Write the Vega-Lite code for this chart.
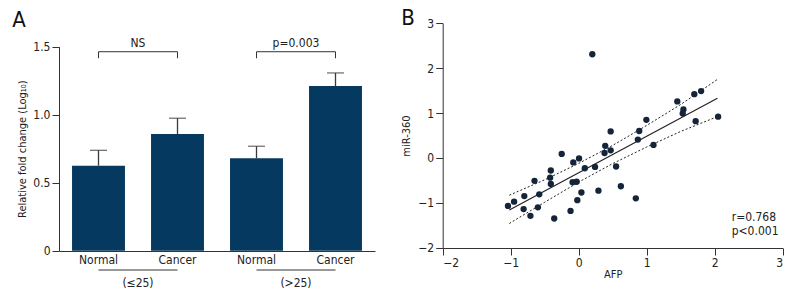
{
  "$schema": "https://vega.github.io/schema/vega-lite/v6.json",
  "background": "white",
  "width": 800,
  "height": 307,
  "autosize": {"type": "none"},
  "padding": 0,
  "config": {
    "font": "DejaVu Sans Condensed, sans-serif",
    "view": {"stroke": null},
    "axis": {"grid": false, "domainColor": "#333", "tickColor": "#333", "labelColor": "#222", "titleColor": "#222", "labelFont": "DejaVu Sans Condensed, sans-serif", "titleFont": "DejaVu Sans Condensed, sans-serif", "titleFontWeight": "normal", "labelFontSize": 12, "titleFontSize": 11}
  },
  "datasets": {
    "bars": [
      {"id": "N1", "label": "Normal", "value": 0.625, "err": 0.738},
      {"id": "C1", "label": "Cancer", "value": 0.858, "err": 0.974},
      {"id": "N2", "label": "Normal", "value": 0.68, "err": 0.768},
      {"id": "C2", "label": "Cancer", "value": 1.211, "err": 1.307}
    ],
    "lines": [
      {"seg": "b1", "o": 0, "id": "N1", "y": 1.415},
      {"seg": "b1", "o": 1, "id": "N1", "y": 1.463},
      {"seg": "b1", "o": 2, "id": "C1", "y": 1.463},
      {"seg": "b1", "o": 3, "id": "C1", "y": 1.415},
      {"seg": "b2", "o": 0, "id": "N2", "y": 1.415},
      {"seg": "b2", "o": 1, "id": "N2", "y": 1.463},
      {"seg": "b2", "o": 2, "id": "C2", "y": 1.463},
      {"seg": "b2", "o": 3, "id": "C2", "y": 1.415},
      {"seg": "u1", "o": 0, "id": "N1", "y": -0.142},
      {"seg": "u1", "o": 1, "id": "C1", "y": -0.142},
      {"seg": "u2", "o": 0, "id": "N2", "y": -0.142},
      {"seg": "u2", "o": 1, "id": "C2", "y": -0.142}
    ],
    "labelsA": [
      {"id": "N1", "y": 1.528, "text": "NS"},
      {"id": "N2", "y": 1.528, "text": "p=0.003"},
      {"id": "N1", "y": -0.235, "text": "(≤25)"},
      {"id": "N2", "y": -0.235, "text": "(>25)"}
    ],
    "panelA": [
      {"id": "N1", "y": 1.7, "text": "A"}
    ],
    "panelB": [
      {"x": -2.51, "y": 3.12, "text": "B"}
    ],
    "points": [
      {"afp": -1.04, "mir": -1.07}, {"afp": -0.95, "mir": -0.975}, {"afp": -0.8, "mir": -0.85},
      {"afp": -0.81, "mir": -1.14}, {"afp": -0.71, "mir": -1.29}, {"afp": -0.65, "mir": -0.51},
      {"afp": -0.58, "mir": -0.81}, {"afp": -0.6, "mir": -1.1}, {"afp": -0.42, "mir": -0.44},
      {"afp": -0.41, "mir": -0.28}, {"afp": -0.41, "mir": -0.58}, {"afp": -0.36, "mir": -1.35},
      {"afp": -0.25, "mir": 0.09}, {"afp": -0.08, "mir": -0.1}, {"afp": -0.09, "mir": -0.54},
      {"afp": -0.03, "mir": -0.53}, {"afp": -0.02, "mir": -0.94}, {"afp": -0.12, "mir": -1.18},
      {"afp": 0.005, "mir": -0.01}, {"afp": 0.04, "mir": -0.77}, {"afp": 0.09, "mir": -0.23},
      {"afp": 0.2, "mir": 2.31}, {"afp": 0.24, "mir": -0.2}, {"afp": 0.29, "mir": -0.73},
      {"afp": 0.39, "mir": 0.27}, {"afp": 0.38, "mir": 0.11}, {"afp": 0.47, "mir": 0.59},
      {"afp": 0.47, "mir": 0.17}, {"afp": 0.55, "mir": -0.19}, {"afp": 0.62, "mir": -0.63},
      {"afp": 0.84, "mir": -0.9}, {"afp": 0.87, "mir": 0.41}, {"afp": 0.89, "mir": 0.6},
      {"afp": 0.995, "mir": 0.85}, {"afp": 1.1, "mir": 0.29}, {"afp": 1.45, "mir": 1.26},
      {"afp": 1.54, "mir": 1.08}, {"afp": 1.53, "mir": 0.99}, {"afp": 1.7, "mir": 1.42},
      {"afp": 1.8, "mir": 1.49}, {"afp": 1.72, "mir": 0.82}, {"afp": 2.05, "mir": 0.92}
    ],
    "fit": [
      {"x": -1.02, "fit": -1.16, "lo": -1.46, "hi": -0.83},
      {"x": -0.5, "fit": -0.737, "lo": -0.987, "hi": -0.487},
      {"x": 0, "fit": -0.33, "lo": -0.538, "hi": -0.122},
      {"x": 0.5, "fit": 0.077, "lo": -0.126, "hi": 0.28},
      {"x": 1.0, "fit": 0.484, "lo": 0.244, "hi": 0.724},
      {"x": 1.5, "fit": 0.891, "lo": 0.591, "hi": 1.191},
      {"x": 2.04, "fit": 1.33, "lo": 0.92, "hi": 1.75}
    ],
    "stats": [
      {"x": 2.25, "y": -1.32, "text": "r=0.768"},
      {"x": 2.25, "y": -1.63, "text": "p<0.001"}
    ]
  },
  "layer": [
    {
      "encoding": {
        "x": {"field": "id", "type": "nominal", "sort": ["N1", "C1", "N2", "C2"],
              "scale": {"domain": ["N1", "C1", "N2", "C2"], "range": [59, 375], "paddingInner": 0.33, "paddingOuter": 0.165},
              "axis": {"title": null, "orient": "bottom", "offset": -56, "ticks": false, "labelAngle": 0, "labelPadding": 3,
                       "labelExpr": "indexof(['N1','N2'], datum.value) >= 0 ? 'Normal' : 'Cancer'"}}
      },
      "layer": [
        {
          "data": {"name": "bars"},
          "mark": {"type": "rule", "color": "#3a3a3a", "strokeWidth": 1.3},
          "encoding": {
            "y": {"field": "value", "type": "quantitative"},
            "y2": {"field": "err"}
          }
        },
        {
          "data": {"name": "bars"},
          "mark": {"type": "tick", "color": "#3a3a3a", "thickness": 1.3, "size": 17, "orient": "horizontal"},
          "encoding": {
            "y": {"field": "err", "type": "quantitative"}
          }
        },
        {
          "data": {"name": "bars"},
          "mark": {"type": "bar", "color": "#063960"},
          "encoding": {
            "y": {"field": "value", "type": "quantitative",
                  "scale": {"domain": [0, 1.5], "range": [250.7, 46.7], "nice": false},
                  "axis": {"orient": "left", "offset": -59, "values": [0, 0.5, 1, 1.5], "title": "Relative fold change (Log₁₀)", "tickSize": 7, "labelPadding": 2, "titlePadding": 5,
                           "labelExpr": "datum.value == 0 ? '0' : format(datum.value, '.1f')"}}
          }
        },
        {
          "data": {"name": "lines"},
          "mark": {"type": "line", "color": "#333", "strokeWidth": 1},
          "encoding": {
            "y": {"field": "y", "type": "quantitative"},
            "detail": {"field": "seg"},
            "order": {"field": "o"}
          }
        },
        {
          "data": {"name": "labelsA"},
          "mark": {"type": "text", "fontSize": 12, "color": "#222", "baseline": "middle"},
          "encoding": {
            "x": {"field": "id", "type": "nominal", "bandPosition": 1.246},
            "y": {"field": "y", "type": "quantitative"},
            "text": {"field": "text"}
          }
        },
        {
          "data": {"name": "panelA"},
          "mark": {"type": "text", "fontSize": 22, "color": "#111", "baseline": "middle", "align": "center"},
          "encoding": {
            "x": {"field": "id", "type": "nominal", "bandPosition": -1.0},
            "y": {"field": "y", "type": "quantitative"},
            "text": {"field": "text"}
          }
        }
      ]
    },
    {
      "layer": [
        {
          "data": {"name": "fit"},
          "mark": {"type": "line", "color": "#222", "strokeWidth": 1.2},
          "encoding": {
            "x": {"field": "x", "type": "quantitative", "scale": {"domain": [-2, 3], "range": [442.7, 782.7], "nice": false},
                  "axis": {"orient": "bottom", "offset": -59, "values": [-2, -1, 0, 1, 2, 3], "format": "d", "title": "AFP", "tickSize": 7, "labelPadding": 2, "titlePadding": 0}},
            "y": {"field": "fit", "type": "quantitative", "scale": {"domain": [-2, 3], "range": [247.7, 23.3], "nice": false},
                  "axis": {"orient": "left", "offset": -442.7, "values": [-2, -1, 0, 1, 2, 3], "format": "d", "title": "miR-360", "tickSize": 7, "labelPadding": 2, "titlePadding": 6}}
          }
        },
        {
          "data": {"name": "fit"},
          "mark": {"type": "line", "color": "#222", "strokeWidth": 1, "strokeDash": [2, 2]},
          "encoding": {
            "x": {"field": "x", "type": "quantitative"},
            "y": {"field": "lo", "type": "quantitative"}
          }
        },
        {
          "data": {"name": "fit"},
          "mark": {"type": "line", "color": "#222", "strokeWidth": 1, "strokeDash": [2, 2]},
          "encoding": {
            "x": {"field": "x", "type": "quantitative"},
            "y": {"field": "hi", "type": "quantitative"}
          }
        },
        {
          "data": {"name": "points"},
          "mark": {"type": "circle", "color": "#14253a", "opacity": 1, "size": 40},
          "encoding": {
            "x": {"field": "afp", "type": "quantitative"},
            "y": {"field": "mir", "type": "quantitative"}
          }
        },
        {
          "data": {"name": "stats"},
          "mark": {"type": "text", "align": "left", "baseline": "middle", "fontSize": 12, "color": "#222"},
          "encoding": {
            "x": {"field": "x", "type": "quantitative"},
            "y": {"field": "y", "type": "quantitative"},
            "text": {"field": "text"}
          }
        },
        {
          "data": {"name": "panelB"},
          "mark": {"type": "text", "fontSize": 22, "color": "#111", "baseline": "middle", "align": "center"},
          "encoding": {
            "x": {"field": "x", "type": "quantitative"},
            "y": {"field": "y", "type": "quantitative"},
            "text": {"field": "text"}
          }
        }
      ]
    }
  ],
  "resolve": {
    "scale": {"x": "independent", "y": "independent"},
    "axis": {"x": "independent", "y": "independent"}
  }
}
